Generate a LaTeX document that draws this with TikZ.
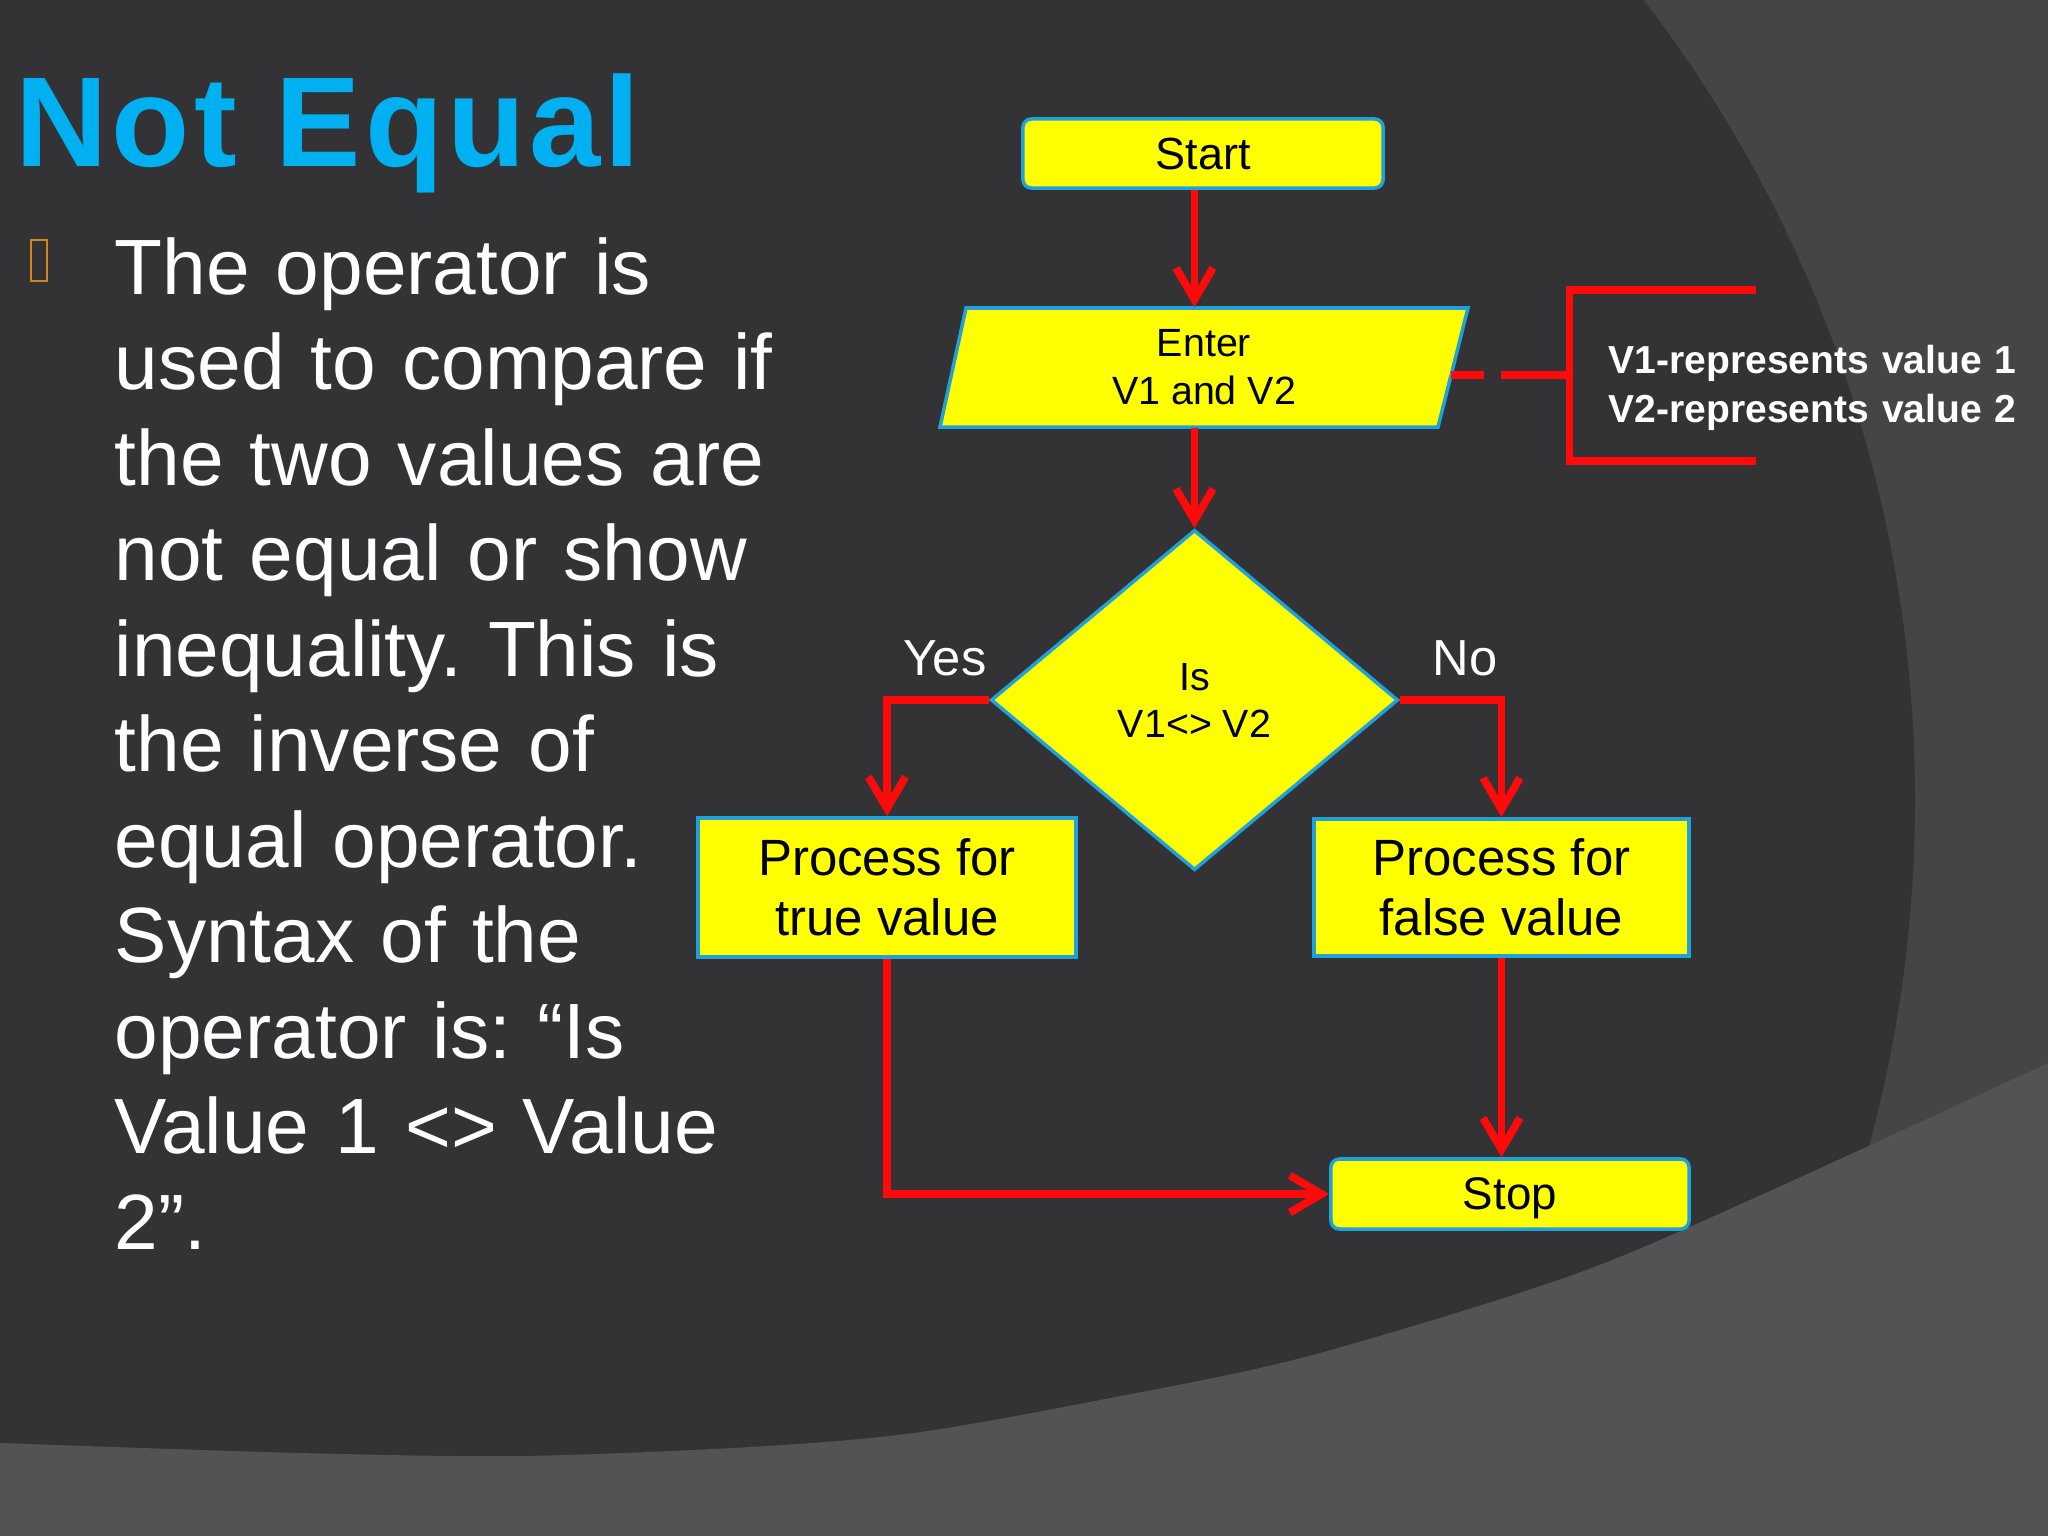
\documentclass[tikz,border=0pt]{standalone}
\usepackage{fontspec}
\setmainfont{Liberation Sans}
\usetikzlibrary{arrows.meta,shapes.geometric,calc}

\definecolor{bgmid}{HTML}{454446}
\definecolor{bgdark}{HTML}{333234}
\definecolor{bgband}{HTML}{535254}
\definecolor{titleblue}{HTML}{00B0F0}
\definecolor{boxblue}{HTML}{1FA2DB}
\definecolor{flowred}{HTML}{FF0A0A}
\definecolor{bulletorange}{HTML}{D8841C}
\definecolor{boxyellow}{HTML}{FFFF00}

\begin{document}
\frenchspacing
\begin{tikzpicture}[x=0.01cm,y=-0.01cm,
  fbox/.style={draw=boxblue, line width=1pt, fill=boxyellow, inner sep=0pt, align=center, text=black},
  termbox/.style={fbox, rounded corners=2.4pt, text depth=0pt},
  arr/.style={draw=flowred, line width=2.2pt, -{Straight Barb[length=9pt,width=10.5pt]}},
  bracketline/.style={draw=flowred, line width=2pt},
  lbl/.style={text=white, inner sep=0pt, font=\fontsize{14.4pt}{16pt}\selectfont}
]
\useasboundingbox (0,0) rectangle (2048,1536);

% background
\begin{scope}
\clip (0,0) rectangle (2048,1536);
\fill[bgmid] (0,0) rectangle (2048,1536);
\fill[bgdark] (600,800) circle[radius=1315];
\fill[bgband] plot[smooth] coordinates {(0,1443) (300,1453) (522,1456) (750,1447) (914,1433) (1100,1400) (1305,1357) (1567,1277) (1750,1200) (2048,1063)} -- (2048,1536) -- (0,1536) -- cycle;
\end{scope}

% title
\node[anchor=base west, inner sep=0pt, text=titleblue, font=\fontsize{36.4pt}{40pt}\selectfont\bfseries\addfontfeature{LetterSpace=3}] (title) at (15,166) {Not Equal};

% bullet glyph box
\draw[bulletorange, line width=0.6pt] (31,240) rectangle (47,281);

% body text
\node[anchor=base west, inner sep=0pt, text=white, align=left, text width=7cm,
      font=\fontsize{22.3pt}{27.17pt}\selectfont] (body) at (114,294)
{The operator is\\
used to compare if\\
the two values are\\
not equal or show\\
inequality. This is\\
the inverse of\\
equal operator.\\
Syntax of the\\
operator is: “Is\\
Value 1 <> Value\\
2”.};

% flowchart nodes
\node[termbox, minimum width=3.6cm, minimum height=0.69cm, font=\fontsize{12.8pt}{15pt}\selectfont] (start) at (1203,153.5) {Start};

\fill[boxyellow] (966,308) -- (1468,308) -- (1438,427) -- (940,427) -- cycle;
\draw[boxblue, line width=1pt] (966,308) -- (1468,308) -- (1438,427) -- (940,427) -- cycle;
\node[inner sep=0pt, minimum width=5.28cm, minimum height=1.19cm, align=center, text=black,
      font=\fontsize{11.2pt}{13.66pt}\selectfont] (enter) at (1204,367.5) {Enter\\V1 and V2};

\node[fbox, shape=diamond, minimum width=4.07cm, minimum height=3.4cm,
      font=\fontsize{11.2pt}{13.37pt}\selectfont] (dia) at (1194.5,700) {Is\\V1<> V2};

\node[fbox, minimum width=3.78cm, minimum height=1.39cm, font=\fontsize{14.5pt}{17.07pt}\selectfont] (truebox) at (887,887.5) {Process for\\true value};
\node[fbox, minimum width=3.75cm, minimum height=1.37cm, font=\fontsize{14.5pt}{17.07pt}\selectfont] (falsebox) at (1501.5,887.5) {Process for\\false value};
\node[termbox, minimum width=3.58cm, minimum height=0.70cm, font=\fontsize{13pt}{15pt}\selectfont] (stop) at (1510,1194) {Stop};

\node[lbl, anchor=base] (yes) at (945,675) {Yes};
\node[lbl, anchor=base] (no) at (1465,675) {No};

% connectors
\draw[arr] (start.south -| dia.north) -- (enter.north -| dia.north);
\draw[arr] (enter.south -| dia.north) -- (dia.north);
\draw[arr] (dia.west) -| (truebox.north);
\draw[arr] (dia.east) -| (falsebox.north);
\draw[arr] (falsebox.south) -- (falsebox.south |- stop.north);
\draw[arr] (truebox.south) |- (stop.west);

% annotation bracket
\coordinate (enterR) at (1451,375);
\coordinate (brMid) at (1569,375);
\coordinate (brTop) at (1756,290);
\coordinate (brBot) at (1756,461);
\draw[flowred, line width=2.1pt, dash pattern=on 3.3mm off 1.7mm on 7mm off 0mm] (enterR) -- (brMid);
\draw[bracketline] (brTop) -- (brTop -| brMid) -- (brBot -| brMid) -- (brBot);

\node[anchor=base west, inner sep=0pt, text=white, align=left, text width=5cm,
      font=\fontsize{11.1pt}{13.94pt}\selectfont\bfseries] (note) at (1608,373)
{V1-represents value 1\\V2-represents value 2};
\end{tikzpicture}
\end{document}
